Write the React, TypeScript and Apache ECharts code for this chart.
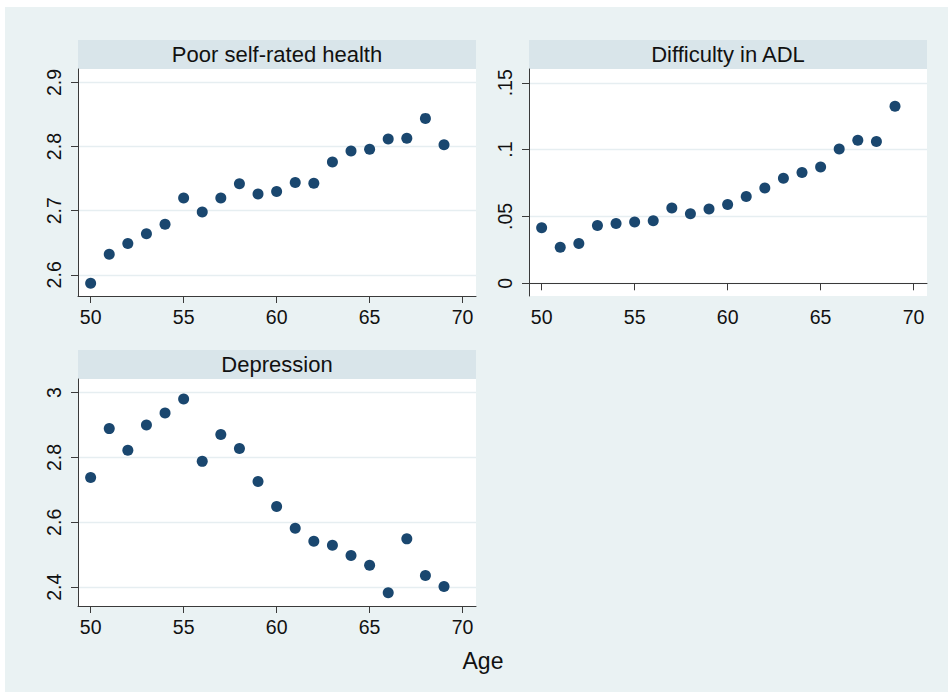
import React, { useEffect, useRef } from "react";
import * as echarts from "echarts";

const ages = [50, 51, 52, 53, 54, 55, 56, 57, 58, 59, 60, 61, 62, 63, 64, 65, 66, 67, 68, 69];
const poorHealth = [2.587, 2.632, 2.649, 2.664, 2.679, 2.72, 2.698, 2.72, 2.742, 2.726, 2.73, 2.744, 2.743, 2.776, 2.793, 2.796, 2.812, 2.813, 2.844, 2.803];
const adl = [0.0415, 0.027, 0.0298, 0.0433, 0.0448, 0.0458, 0.0468, 0.0563, 0.052, 0.0555, 0.059, 0.065, 0.0713, 0.0785, 0.0828, 0.087, 0.1005, 0.107, 0.106, 0.1325];
const depression = [2.738, 2.889, 2.822, 2.9, 2.937, 2.98, 2.788, 2.871, 2.828, 2.726, 2.649, 2.582, 2.542, 2.529, 2.498, 2.468, 2.383, 2.549, 2.436, 2.402];

const xTicks = [50, 55, 60, 65, 70];
const healthTicks = [2.6, 2.7, 2.8, 2.9];
const adlTicks = [0, 0.05, 0.1, 0.15];
const adlTickLabels = ["0", ".05", ".1", ".15"];
const depTicks = [2.4, 2.6, 2.8, 3];

const panelTitles = ["Poor self-rated health", "Difficulty in ADL", "Depression"];
const xTitle = "Age";

const FONT = "Liberation Sans, Arial, Helvetica, sans-serif";
const MARKER = "#1a476f";
const AXIS = "#3a3a3a";
const GRIDLINE = "#e6eef1";
const HEADER = "#d9e5ea";
const BG = "#eaf2f3";

export default function App() {
  const ref = useRef<HTMLDivElement>(null);
  useEffect(() => {
    if (!ref.current) return;
    const chart = echarts.init(ref.current, null, { renderer: "svg" });

    const grids = [
      { left: 78, top: 69, width: 398, height: 227 },
      { left: 529, top: 69, width: 398, height: 227 },
      { left: 78, top: 379, width: 398, height: 227 },
    ];

    const xAxis = grids.map((_, i) => ({
      type: "value",
      gridIndex: i,
      min: 49.32,
      max: 70.72,
      axisLine: { show: true, lineStyle: { color: AXIS, width: 1 } },
      axisTick: { show: true, length: 7, customValues: xTicks, lineStyle: { color: AXIS, width: 1 } },
      axisLabel: { customValues: xTicks, fontSize: 19.5, color: "#111", fontFamily: FONT, margin: 11 },
      splitLine: { show: false },
    }));

    const yDefs = [
      { min: 2.567, max: 2.921, ticks: healthTicks, fmt: (v: number) => String(v) },
      { min: -0.0095, max: 0.1603, ticks: adlTicks, fmt: (v: number) => adlTickLabels[adlTicks.findIndex((t) => Math.abs(t - v) < 1e-9)] ?? String(v) },
      { min: 2.342, max: 3.042, ticks: depTicks, fmt: (v: number) => String(v) },
    ];

    const yAxis = yDefs.map((d, i) => ({
      type: "value",
      gridIndex: i,
      min: d.min,
      max: d.max,
      axisLine: { show: true, lineStyle: { color: AXIS, width: 1 } },
      axisTick: { show: true, length: 7, customValues: d.ticks, lineStyle: { color: AXIS, width: 1 } },
      axisLabel: { customValues: d.ticks, formatter: d.fmt, rotate: 90, fontSize: 19.5, color: "#111", fontFamily: FONT, margin: 14 },
      splitLine: { show: true, lineStyle: { color: GRIDLINE, width: 1.3 } },
    }));

    const seriesData = [poorHealth, adl, depression];
    const series = seriesData.map((vals, i) => ({
      type: "scatter",
      xAxisIndex: i,
      yAxisIndex: i,
      symbol: "circle",
      symbolSize: 11,
      itemStyle: { color: MARKER, opacity: 1 },
      data: ages.map((a, j) => [a, vals[j]]),
    }));

    const graphics: any[] = [
      { type: "rect", z: -10, shape: { x: 5, y: 7, width: 943, height: 685 }, style: { fill: BG } },
    ];
    grids.forEach((g, i) => {
      graphics.push({
        type: "rect",
        z: -5,
        shape: { x: g.left, y: g.top - 29, width: g.width, height: 29 },
        style: { fill: HEADER },
      });
      graphics.push({
        type: "text",
        z: 10,
        x: g.left + g.width / 2,
        y: g.top - 15,
        style: {
          text: panelTitles[i],
          fill: "#111",
          fontSize: 22,
          fontFamily: FONT,
          textAlign: "center",
          textVerticalAlign: "middle",
        },
      });
    });
    graphics.push({
      type: "text",
      x: 483,
      y: 661,
      style: { text: xTitle, fill: "#111", fontSize: 23, fontFamily: FONT, textAlign: "center", textVerticalAlign: "middle" },
    });

    chart.setOption({
      animation: false,
      backgroundColor: "#ffffff",
      grid: grids.map((g) => ({ ...g, show: true, backgroundColor: "#ffffff", borderWidth: 0, containLabel: false })),
      xAxis,
      yAxis,
      series,
      graphic: graphics,
    });
    return () => chart.dispose();
  }, []);
  return <div ref={ref} style={{ position: "fixed", left: 0, top: 0, width: 948, height: 692 }} />;
}
